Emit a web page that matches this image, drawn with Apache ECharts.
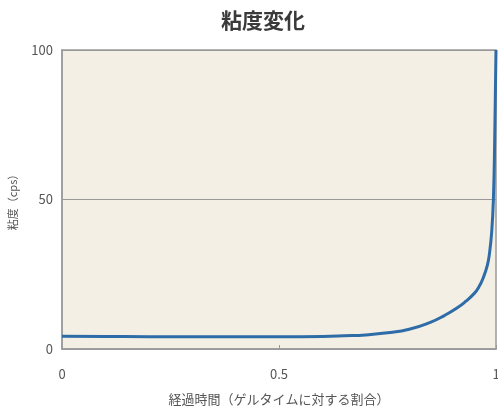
<!DOCTYPE html>
<html><head><meta charset="utf-8">
<script src="https://cdn.jsdelivr.net/npm/echarts@6/dist/echarts.min.js"></script>
<style>html,body{margin:0;padding:0;background:#fff}#c{width:498px;height:410px}</style>
</head><body><div id="c"></div>
<script>
var titleText = '粘度変化';
var xName = '経過時間（ゲルタイムに対する割合）';
var yName = '粘度（cps）';
var timeRatio = [0, 0.1, 0.2, 0.3, 0.4, 0.5, 0.6, 0.65, 0.7, 0.75, 0.8, 0.85, 0.88, 0.91, 0.93, 0.95, 0.96, 0.97, 0.98, 0.985, 0.99, 0.994, 0.997, 1.0];
var viscosity = [4.3, 4.2, 4.1, 4.1, 4.1, 4.1, 4.2, 4.4, 4.7, 5.4, 6.6, 9.0, 11.1, 13.7, 15.9, 18.6, 20.6, 23.6, 28.0, 32.0, 39.0, 50.0, 70.0, 100];
var xTicks = {0: '0', 0.5: '0.5', 1: '1'};
var yTicks = {0: '0', 50: '50', 100: '100'};

var chart = echarts.init(document.getElementById('c'));
var fam = '"Noto Sans CJK JP", "Noto Sans", sans-serif';
chart.setOption({
  animation: false,
  backgroundColor: '#fff',
  title: { text: titleText, left: 258, textAlign: 'center', top: 5,
    textStyle: { fontFamily: fam, fontSize: 21, fontWeight: 'bold', color: '#3a3a3a' } },
  grid: { left: 62, right: 2, top: 50, bottom: 61, outerBoundsMode: 'none', containLabel: false, show: true, backgroundColor: '#f4efe5', borderColor: '#9a9a9a', borderWidth: 1.5 },
  xAxis: { type: 'value', min: 0, max: 1, interval: 0.5,
    name: xName, nameLocation: 'middle', nameGap: 44,
    nameTextStyle: { fontFamily: fam, fontSize: 13, color: '#555' },
    axisLine: { show: true, lineStyle: { color: '#9a9a9a', width: 1.5 } },
    axisTick: { show: true, inside: true, length: 4, lineStyle: { color: '#9a9a9a' } },
    splitLine: { show: false },
    axisLabel: { margin: 19, fontFamily: fam, fontSize: 13, color: '#555', formatter: function(v){ return xTicks[v] !== undefined ? xTicks[v] : ''; } } },
  yAxis: { type: 'value', min: 0, max: 100, interval: 50,
    name: yName, nameLocation: 'middle', nameGap: 44, nameRotate: 90,
    nameTextStyle: { fontFamily: fam, fontSize: 11, color: '#555' },
    axisLine: { show: true, lineStyle: { color: '#9a9a9a', width: 1.5 } },
    axisTick: { show: false },
    splitLine: { show: true, lineStyle: { color: '#999', width: 1.2 } },
    axisLabel: { margin: 9, fontFamily: fam, fontSize: 13, color: '#555', formatter: function(v){ return yTicks[v] !== undefined ? yTicks[v] : ''; } } },
  series: [{ type: 'line', data: timeRatio.map(function(x, i){ return [x, viscosity[i]]; }),
    smooth: 0.5, showSymbol: false, clip: false,
    lineStyle: { color: '#2e6ca8', width: 3 } }]
});
</script></body></html>
